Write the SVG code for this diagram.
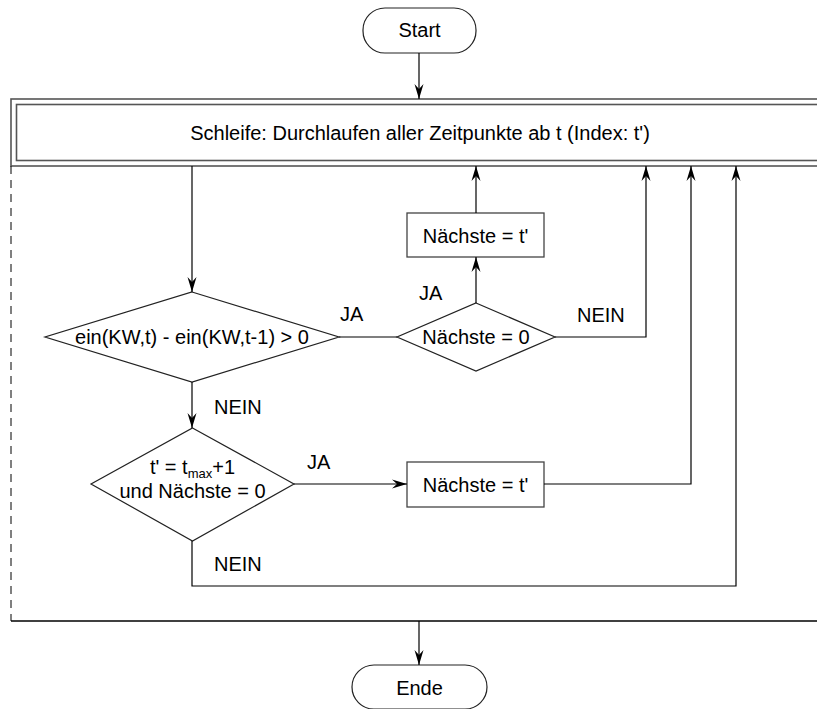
<svg xmlns="http://www.w3.org/2000/svg" width="817" height="709" viewBox="0 0 817 709">
<style>
text{font-family:"Liberation Sans",Arial,Helvetica,sans-serif;font-size:20px;fill:#000}
.c{text-anchor:middle}
.shape{fill:#fff;stroke:#222;stroke-width:1.2}
.box{fill:#fff;stroke:#444;stroke-width:1.3}
.conn{fill:none;stroke:#000;stroke-width:1.2}
.hdr{fill:none;stroke:#555;stroke-width:1.6}
</style>
<defs>
<marker id="ah" markerWidth="16" markerHeight="10" viewBox="-15 -5 16 10" refX="0" refY="0" orient="auto" markerUnits="userSpaceOnUse">
<path d="M0,0 L-15,-4.5 L-10,0 L-15,4.5 z" fill="#000"/>
</marker>
</defs>
<rect width="817" height="709" fill="#fff"/>

<g id="loop">
<rect class="hdr" x="11" y="99" width="830" height="67"/>
<rect class="hdr" x="16.5" y="104.5" width="820" height="56"/>
<text class="c" x="420" y="140">Schleife: Durchlaufen aller Zeitpunkte ab t (Index: t')</text>
<line x1="11" y1="166" x2="11" y2="621" stroke="#000" stroke-width="1" stroke-dasharray="8,6"/>
<line x1="11" y1="621" x2="817" y2="621" stroke="#000" stroke-width="1.3"/>
</g>

<g id="start">
<rect class="shape" x="363" y="8" width="113" height="45" rx="22" ry="22"/>
<text class="c" x="419.5" y="37">Start</text>
</g>

<g id="d1">
<polygon class="shape" points="192,292 339,337 192,382 45,337"/>
<text class="c" x="192" y="344">ein(KW,t) - ein(KW,t-1) &gt; 0</text>
</g>

<g id="d2">
<polygon class="shape" points="476,303 555,337 476,371 397,337"/>
<text class="c" x="476" y="344">Nächste = 0</text>
</g>

<g id="b1">
<rect class="box" x="407" y="213" width="137" height="44"/>
<text class="c" x="475.5" y="243">Nächste = t'</text>
</g>

<g id="d3">
<polygon class="shape" points="192.5,428 294,484 192.5,541 91,484"/>
<text class="c" x="192.5" y="474">t' = t<tspan font-size="13" dy="4">max</tspan><tspan dy="-4">+1</tspan></text>
<text class="c" x="192.5" y="498">und Nächste = 0</text>
</g>

<g id="b2">
<rect class="box" x="407" y="462" width="137" height="45"/>
<text class="c" x="475.5" y="492">Nächste = t'</text>
</g>

<g id="ende">
<rect class="shape" x="352" y="665" width="135" height="44" rx="22" ry="22"/>
<text class="c" x="419.5" y="695">Ende</text>
</g>

<g id="connectors">
<line class="conn" x1="419" y1="53" x2="419" y2="99" marker-end="url(#ah)"/>
<line class="conn" x1="192" y1="166" x2="192" y2="292" marker-end="url(#ah)"/>
<line class="conn" x1="339" y1="337" x2="397" y2="337"/>
<line class="conn" x1="476" y1="303" x2="476" y2="257" marker-end="url(#ah)"/>
<line class="conn" x1="476" y1="213" x2="476" y2="166" marker-end="url(#ah)"/>
<polyline class="conn" points="555,337 646,337 646,166" marker-end="url(#ah)"/>
<line class="conn" x1="192" y1="382" x2="192" y2="428" marker-end="url(#ah)"/>
<line class="conn" x1="294" y1="484" x2="407" y2="484" marker-end="url(#ah)"/>
<polyline class="conn" points="544,484 691,484 691,166" marker-end="url(#ah)"/>
<polyline class="conn" points="192,541 192,586 736,586 736,166" marker-end="url(#ah)"/>
<line class="conn" x1="419" y1="621" x2="419" y2="665" marker-end="url(#ah)"/>
<text x="340" y="321">JA</text>
<text x="419" y="300">JA</text>
<text x="577" y="322">NEIN</text>
<text x="214" y="414">NEIN</text>
<text x="307" y="469">JA</text>
<text x="214" y="571">NEIN</text>
</g>
</svg>
